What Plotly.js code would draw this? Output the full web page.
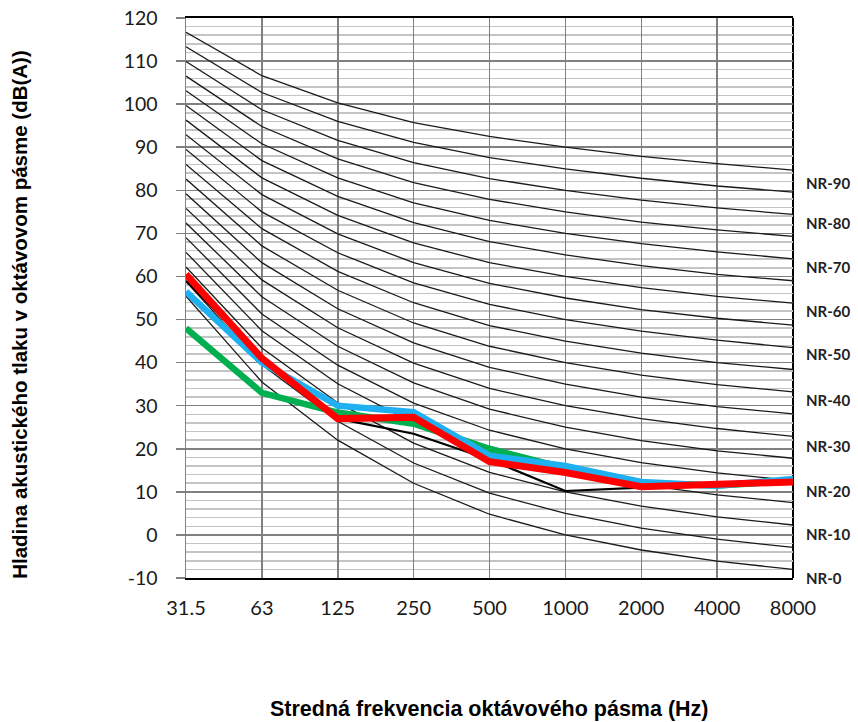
<!DOCTYPE html>
<html>
<head>
<meta charset="utf-8">
<script src="https://cdn.plot.ly/plotly-3.0.1.min.js"></script>
<style>html,body{margin:0;padding:0;background:#fff}#chart{width:858px;height:722px}</style>
</head>
<body>
<div id="chart"></div>
<script>
// Octave-band centre frequencies (category axis)
const categories = ['31.5','63','125','250','500','1000','2000','4000','8000'];

// Y-axis tick values and labels
const yTickVals = [-10, 0, 10, 20, 30, 40, 50, 60, 70, 80, 90, 100, 110, 120];
const yTickText = ['-10', '0', '10', '20', '30', '40', '50', '60', '70', '80', '90', '100', '110', '120'];

// NR reference curves (dB), NR-0 ... NR-90 in steps of 5
const nrLevels = [0,5,10,15,20,25,30,35,40,45,50,55,60,65,70,75,80,85,90];
const nr0  = [55.4, 35.5, 22.0, 12.0,  4.8,  0, -3.5, -6.1, -8.0];
const nr5  = [58.8, 39.5, 26.4, 16.7,  9.7,  5,  1.6, -1.0, -2.9];
const nr10 = [62.2, 43.4, 30.7, 21.3, 14.5, 10,  6.7,  4.2,  2.3];
const nr15 = [65.6, 47.4, 35.1, 26.0, 19.4, 15, 11.7,  9.3,  7.5];
const nr20 = [69.0, 51.3, 39.4, 30.6, 24.3, 20, 16.8, 14.4, 12.6];
const nr25 = [72.4, 55.3, 43.8, 35.3, 29.2, 25, 21.9, 19.5, 17.8];
const nr30 = [75.8, 59.2, 48.1, 39.9, 34.0, 30, 27.0, 24.7, 22.9];
const nr35 = [79.2, 63.2, 52.5, 44.6, 38.9, 35, 32.0, 29.8, 28.1];
const nr40 = [82.6, 67.1, 56.8, 49.2, 43.8, 40, 37.1, 34.9, 33.2];
const nr45 = [86.0, 71.1, 61.2, 53.9, 48.6, 45, 42.2, 40.0, 38.4];
const nr50 = [89.5, 75.0, 65.5, 58.5, 53.5, 50, 47.3, 45.2, 43.5];
const nr55 = [92.9, 79.0, 69.9, 63.2, 58.4, 55, 52.3, 50.3, 48.7];
const nr60 = [96.3, 82.9, 74.2, 67.8, 63.2, 60, 57.4, 55.4, 53.8];
const nr65 = [99.7, 86.9, 78.6, 72.5, 68.1, 65, 62.5, 60.5, 59.0];
const nr70 = [103.1, 90.8, 82.9, 77.1, 73.0, 70, 67.6, 65.7, 64.1];
const nr75 = [106.5, 94.8, 87.3, 81.8, 77.9, 75, 72.6, 70.8, 69.3];
const nr80 = [109.9, 98.7, 91.6, 86.4, 82.7, 80, 77.7, 75.9, 74.4];
const nr85 = [113.3, 102.7, 96.0, 91.1, 87.6, 85, 82.8, 81.0, 79.6];
const nr90 = [116.7, 106.6, 100.3, 95.7, 92.5, 90, 87.9, 86.2, 84.7];
const nrCurves = [nr0,nr5,nr10,nr15,nr20,nr25,nr30,nr35,nr40,nr45,nr50,nr55,nr60,nr65,nr70,nr75,nr80,nr85,nr90];

// Measured spectra (dB)
const seriesBlack = [59.0, 41.0, 27.0, 23.5, 17.5, 10.2, 11.0, 12.0, 12.5];
const seriesGreen = [48.0, 33.0, 28.4, 25.8, 20.0, 15.5, 12.0, 11.5, 12.5];
const seriesBlue  = [56.5, 40.0, 30.0, 28.5, 18.4, 16.0, 12.3, 11.4, 13.0];
const seriesRed   = [60.5, 41.0, 27.0, 27.3, 17.0, 14.5, 11.2, 11.8, 12.3];

// NR curve labels on the right
const nrLabels = ['NR-90','NR-80','NR-70','NR-60','NR-50','NR-40','NR-30','NR-20','NR-10','NR-0'];
const nrLabelY = [81.6, 72.3, 62.1, 51.9, 41.9, 31.4, 20.7, 10.2, 0.2, -10];

const traces = [];
nrCurves.forEach((c, i) => {
  traces.push({x: categories, y: c, type: 'scatter', mode: 'lines', name: 'NR-' + nrLevels[i],
    line: {color: '#1a1a1a', width: 1.3}, hoverinfo: 'skip', showlegend: false});
});
traces.push({x: categories, y: seriesBlack, type: 'scatter', mode: 'lines', line: {color: '#000000', width: 2.2}, showlegend: false});
traces.push({x: categories, y: seriesGreen, type: 'scatter', mode: 'lines', line: {color: '#00b050', width: 6.5}, showlegend: false});
traces.push({x: categories, y: seriesBlue,  type: 'scatter', mode: 'lines', line: {color: '#1eb0f0', width: 6.5}, showlegend: false});
traces.push({x: categories, y: seriesRed,   type: 'scatter', mode: 'lines', line: {color: '#ff0000', width: 7}, showlegend: false});

const annotations = nrLabels.map((t, i) => ({
  text: '<b>' + t + '</b>', xref: 'paper', yref: 'y', x: 1, y: nrLabelY[i],
  xanchor: 'left', yanchor: 'middle', xshift: 11, showarrow: false,
  font: {family: 'Lato, sans-serif', size: 15, color: '#222222'}
}));
annotations.push({
  text: '<b>Hladina akustického tlaku v oktávovom pásme (dB(A))</b>',
  xref: 'paper', yref: 'paper', x: 0, y: 0.47, xanchor: 'center', yanchor: 'middle',
  xshift: -166, textangle: -90, showarrow: false,
  font: {family: 'Liberation Sans, Arial, sans-serif', size: 20.5, color: '#000000'}
});
annotations.push({
  text: '<b>Stredná frekvencia oktávového pásma (Hz)</b>',
  xref: 'paper', yref: 'paper', x: 0.5, y: 0, xanchor: 'center', yanchor: 'middle',
  yshift: -131, showarrow: false,
  font: {family: 'Liberation Sans, Arial, sans-serif', size: 21.5, color: '#000000'}
});

const layout = {
  width: 858, height: 722,
  margin: {l: 186, r: 65, t: 18, b: 144},
  paper_bgcolor: '#ffffff', plot_bgcolor: '#ffffff',
  showlegend: false,
  xaxis: {
    type: 'category', range: [0, 8], showgrid: true, gridcolor: '#808080', gridwidth: 1.5,
    showline: true, linecolor: '#000000', linewidth: 2, mirror: true,
    ticks: '', ticklabelstandoff: 11,
    tickfont: {family: 'Lato, sans-serif', size: 20, color: '#1a1a1a'},
    fixedrange: true
  },
  yaxis: {
    range: [-10, 120], tickmode: 'array', tickvals: yTickVals, ticktext: yTickText,
    showgrid: true, gridcolor: '#808080', gridwidth: 1.5,
    showline: true, linecolor: '#808080', linewidth: 1.5,
    ticks: 'outside', ticklen: 9, tickcolor: '#808080', tickwidth: 1.5, ticklabelstandoff: 14,
    minor: {dtick: 2, tick0: 0, showgrid: true, gridcolor: '#c4c4c4', gridwidth: 1.5, ticks: ''},
    zeroline: false,
    tickfont: {family: 'Lato, sans-serif', size: 19.5, color: '#1a1a1a'},
    fixedrange: true
  },
  shapes: [
    {type: 'line', xref: 'paper', yref: 'paper', x0: 1, x1: 1, y0: 0, y1: 1, line: {color: '#000000', width: 2}, layer: 'below'}
  ],
  annotations: annotations
};

Plotly.newPlot('chart', traces, layout, {displayModeBar: false, staticPlot: true});
</script>
</body>
</html>
